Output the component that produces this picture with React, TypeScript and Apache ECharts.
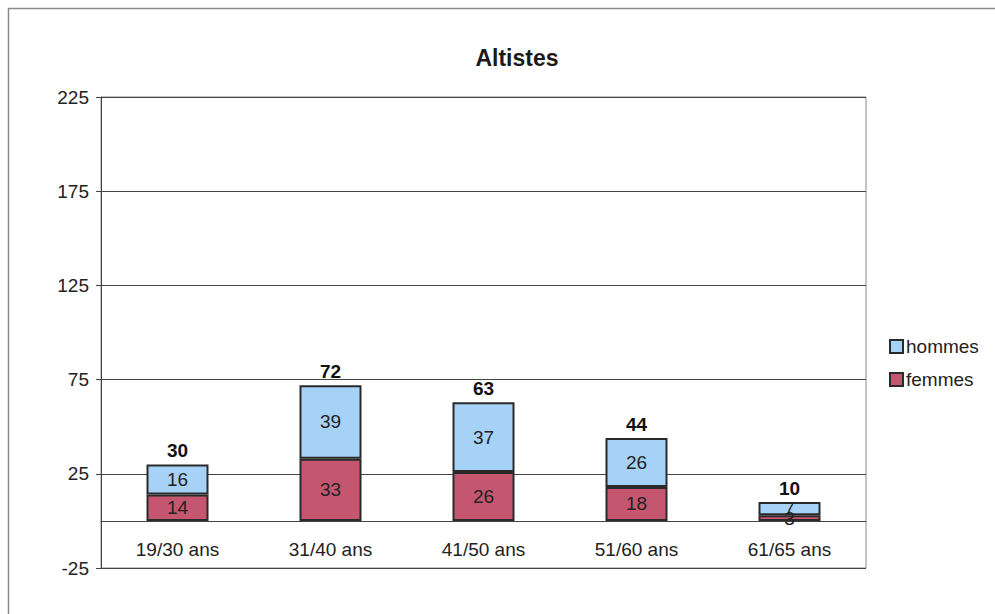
import React, { useEffect, useRef } from "react";
import * as echarts from "echarts";

const categories = ["19/30 ans", "31/40 ans", "41/50 ans", "51/60 ans", "61/65 ans"];
const femmes = [14, 33, 26, 18, 3];
const hommes = [16, 39, 37, 26, 7];
const totals = femmes.map((f, i) => f + hommes[i]);
const yTicks = { min: -25, max: 225, interval: 50 };

export default function App() {
  const ref = useRef<HTMLDivElement>(null);
  useEffect(() => {
    if (!ref.current) return;
    const chart = echarts.init(ref.current, null, { renderer: "svg" });
    const font = "'Liberation Sans', Arial, sans-serif";
    chart.setOption({
      animation: false,
      backgroundColor: "#ffffff",
      textStyle: { fontFamily: font },
      title: {
        text: "Altistes",
        left: 512,
        top: 41,
        textAlign: "center",
        textStyle: { fontSize: 23, fontWeight: "bold", color: "#1a1a1a", fontFamily: font },
      },
      graphic: [
        {
          type: "rect",
          shape: { x: 8.5, y: 8.5, width: 1000, height: 620 },
          style: { fill: "none", stroke: "#8a8a8a", lineWidth: 1.5 },
          silent: true,
        },
      ],
      legend: {
        orient: "vertical",
        left: 884,
        top: 332,
        itemWidth: 13,
        itemHeight: 13,
        itemGap: 14,
        icon: "rect",
        data: ["hommes", "femmes"],
        textStyle: { fontSize: 19, color: "#222", fontFamily: font, padding: [0, 0, 0, -2] },
      },
      grid: {
        left: 101,
        top: 97,
        width: 765,
        height: 471,
        show: true,
        borderColor: "#8a8a8a",
        borderWidth: 1,
        containLabel: false,
      },
      xAxis: {
        type: "category",
        data: categories,
        axisLine: { show: true, onZero: true, lineStyle: { color: "#444", width: 1 } },
        axisTick: { show: false },
        axisLabel: { fontSize: 19, color: "#222", margin: -28, fontFamily: font },
        splitLine: { show: false },
      },
      yAxis: {
        type: "value",
        min: yTicks.min,
        max: yTicks.max,
        interval: yTicks.interval,
        axisLine: { show: true, lineStyle: { color: "#444" } },
        axisTick: { show: true, length: 5, lineStyle: { color: "#444" } },
        axisLabel: { fontSize: 19, color: "#222", margin: 12, fontFamily: font },
        splitLine: { show: true, lineStyle: { color: "#444", width: 1 } },
      },
      series: [
        {
          name: "femmes",
          type: "bar",
          stack: "t",
          data: femmes,
          barWidth: 62,
          itemStyle: { color: "#c55670", borderColor: "#2a2a2a", borderWidth: 2 },
          label: { show: true, position: "inside", fontSize: 19, color: "#222", fontFamily: font },
          z: 3,
        },
        {
          name: "hommes",
          type: "bar",
          stack: "t",
          data: hommes,
          barWidth: 62,
          itemStyle: { color: "#a6d2f7", borderColor: "#2a2a2a", borderWidth: 2 },
          label: { show: true, position: "inside", fontSize: 19, color: "#222", fontFamily: font },
          z: 3,
        },
        {
          name: "total",
          type: "bar",
          data: totals,
          barWidth: 62,
          barGap: "-100%",
          itemStyle: { color: "rgba(0,0,0,0)" },
          label: {
            show: true,
            position: "top",
            distance: 4,
            fontSize: 19,
            fontWeight: "bold",
            color: "#111",
            fontFamily: font,
          },
          silent: true,
          z: 1,
        },
      ],
    });
    return () => chart.dispose();
  }, []);
  return (
    <div
      ref={ref}
      style={{ position: "fixed", left: 0, top: 0, width: 995, height: 614 }}
    />
  );
}
